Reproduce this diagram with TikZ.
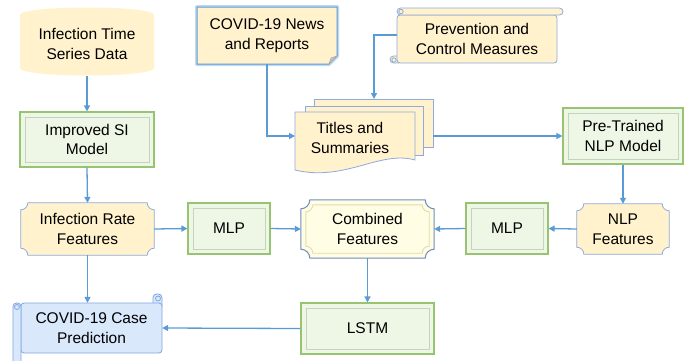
\documentclass[tikz,border=0pt]{standalone}
\usepackage{fontspec}
\setmainfont{Liberation Sans}
\usetikzlibrary{arrows.meta,calc}
\pgfdeclarelayer{background}
\pgfsetlayers{background,main}
\definecolor{yfill}{HTML}{FFF2CC}
\definecolor{ydraw}{HTML}{8FAADC}
\definecolor{gfill}{HTML}{EEF7E6}
\definecolor{gdraw}{HTML}{97C470}
\definecolor{ginner}{HTML}{C5D3BE}
\definecolor{bfill}{HTML}{DAE8FC}
\definecolor{bdraw}{HTML}{7EA6E0}
\definecolor{cfill}{HTML}{FFFDE3}
\definecolor{cdraw}{HTML}{6C8EBF}
\definecolor{cinner}{HTML}{E3DAB4}
\definecolor{arrc}{HTML}{5B9BD5}
\definecolor{glow}{HTML}{BFD9F2}
\tikzset{
  lbl/.style={inner sep=0pt, align=center, font=\fontsize{15.5}{19.5}\selectfont},
  greenbox/.style={lbl, draw=gdraw, line width=1.1pt, fill=gfill,
    path picture={\draw[ginner, line width=0.9pt]
      ([shift={(5pt,-5pt)}]path picture bounding box.north west) rectangle
      ([shift={(-5pt,5pt)}]path picture bounding box.south east);}},
  yshape/.style={fill=yfill, draw=ydraw, line width=0.8pt},
  arr/.style={draw=arrc, line width=1.3pt, -{Triangle[length=6pt,width=6pt]}},
}
\newcommand\plaqueshape[4]{%
  \draw[#1] let \p1=([shift={(#4,-#4)}]#2.north west), \p2=([shift={(-#4,#4)}]#2.south east) in
  (\x1+#3,\y1) -- (\x2-#3,\y1)
  .. controls (\x2-#3,\y1-0.55*#3) and (\x2-0.55*#3,\y1-#3) .. (\x2,\y1-#3)
  -- (\x2,\y2+#3)
  .. controls (\x2-0.55*#3,\y2+#3) and (\x2-#3,\y2+0.55*#3) .. (\x2-#3,\y2)
  -- (\x1+#3,\y2)
  .. controls (\x1+#3,\y2+0.55*#3) and (\x1+0.55*#3,\y2+#3) .. (\x1,\y2+#3)
  -- (\x1,\y1-#3)
  .. controls (\x1+0.55*#3,\y1-#3) and (\x1+#3,\y1-0.55*#3) .. cycle;}
\begin{document}
\begin{tikzpicture}[x=1pt,y=-1pt]
\useasboundingbox (0,0) rectangle (686,360);

% ---- nodes ----
\node[lbl, minimum width=134pt, minimum height=64pt] (isd) at (87,44) {Infection Time\\Series Data};
\node[greenbox, minimum width=134pt, minimum height=55pt] (isi) at (87,139.5) {Improved SI\\Model};
\node[lbl, minimum width=133pt, minimum height=52pt] (irf) at (87.5,229) {Infection Rate\\Features};
\node[greenbox, minimum width=82pt, minimum height=51pt] (mlp1) at (229,228.5) {MLP};
\node[lbl, minimum width=133pt, minimum height=58pt] (comb) at (367.5,229) {Combined\\Features};
\node[greenbox, minimum width=82pt, minimum height=51pt] (mlp2) at (507,228.5) {MLP};
\node[lbl, minimum width=92pt, minimum height=50pt] (nlpf) at (623,229) {NLP\\Features};
\node[greenbox, minimum width=120pt, minimum height=56pt] (ptm) at (623,136) {Pre-Trained\\NLP Model};
\node[lbl, minimum width=110pt, minimum height=56pt] (tas) at (350,138) {Titles and\\Summaries};
\node[lbl, minimum width=140pt, minimum height=57pt] (news) at (267,35.5) {COVID-19 News\\and Reports};
\node[lbl, minimum width=160pt, minimum height=48pt] (prev) at (477,39) {Prevention and\\Control Measures};
\node[lbl, minimum width=141pt, minimum height=50pt] (pred) at (91.5,328) {COVID-19 Case\\Prediction};
\node[greenbox, minimum width=133pt, minimum height=51pt] (lstm) at (367.5,328.5) {LSTM};
\coordinate (tasback) at (433,136);
\coordinate (tastop) at (374,99);

% ---- shapes on background ----
\begin{pgfonlayer}{background}
  % cylinder
  \fill[yfill] (20,15) .. controls (20,5) and (154,5) .. (154,15) -- (154,68)
     .. controls (154,78) and (20,78) .. (20,68) -- cycle;
  % plaques
  \plaqueshape{yshape}{irf}{7pt}{0pt}
  \plaqueshape{yshape}{nlpf}{7pt}{0pt}
  \plaqueshape{fill=cfill, draw=cdraw, line width=1pt}{comb}{9pt}{0pt}
  \plaqueshape{draw=cinner, line width=0.9pt}{comb}{7pt}{5pt}
  % news with glow and folded corner
  \draw[glow, line width=4pt, line join=round] (197,7) -- (337,7) -- (337,56) -- (329,64) -- (197,64) -- cycle;
  \draw[fill=yfill, draw=arrc, line width=1pt] (197,7) -- (337,7) -- (337,56) -- (329,64) -- (197,64) -- cycle;
  \draw[fill=gray!45, draw=gray!70, line width=0.5pt] (337,56) -- (329,64) -- (331,58) -- cycle;
  % multi document
  \draw[yshape] (314,99) rectangle (433,147);
  \draw[yshape] (305,106) rectangle (423,155);
  \draw[yshape] (295,112) -- (415,112) -- (415,160)
     .. controls (380,150) and (345,182) .. (295,170) -- cycle;
  % prevention horizontal scroll
  \draw[yshape, rounded corners=3.5pt] (390,56) rectangle (402,63);
  \draw[yshape] (394,60) circle (2.2);
  \draw[yshape, rounded corners=3pt] (397,15) -- (557,15) -- (557,63) -- (397,63) -- cycle;
  \draw[yshape, rounded corners=3.5pt] (397,8) rectangle (563,15);
  \draw[yshape] (401,11.5) circle (2.2);
  % prediction vertical scroll
  \draw[fill=bfill, draw=bdraw, line width=0.8pt, rounded corners=3.5pt] (153,294) rectangle (162,310);
  \draw[fill=bfill, draw=bdraw, line width=0.8pt] (158,298.5) circle (2.5);
  \draw[fill=bfill, draw=bdraw, line width=0.8pt, rounded corners=3pt] (21,303) -- (162,303) -- (162,353) -- (21,353) -- cycle;
  \draw[fill=bfill, draw=bdraw, line width=0.8pt, rounded corners=3.5pt] (13,364) -- (13,303) -- (21,303) -- (21,364);
  \draw[fill=bfill, draw=bdraw, line width=0.8pt] (17,307) circle (2.5);
\end{pgfonlayer}

% ---- connectors ----
\draw[arr] (isd.south) -- (isi.north);
\draw[arr] (isi.south) -- (irf.north);
\draw[arr] (irf.east) -- (mlp1.west);
\draw[arr] (mlp1.east) -- (comb.west);
\draw[arr] (irf.south) -- (irf.south |- pred.north);
\draw[arr] (lstm.west) -- (pred.east);
\draw[arr] (comb.south) -- (lstm.north);
\draw[arr] (mlp2.west) -- (comb.east);
\draw[arr] (nlpf.west) -- (mlp2.east);
\draw[arr] (ptm.south) -- (nlpf.north);
\draw[arr] (tasback) -- (ptm.west);
\draw[arr] (news.south) |- (295,136);
\draw[arr] (prev.west |- 0,35) -| (tastop);
\end{tikzpicture}
\end{document}
